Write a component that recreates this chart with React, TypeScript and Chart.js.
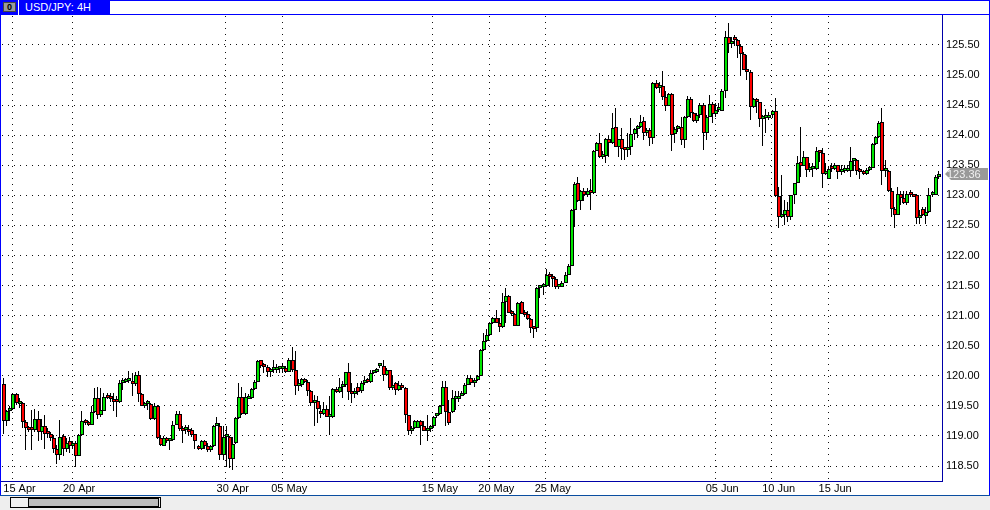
import React, { useEffect, useRef } from "react";
import { Chart, registerables } from "chart.js";

Chart.register(...registerables);

const opens = [
119.86,119.24,119.41,119.45,119.69,119.53,119.54,119.23,119.13,119.12,
119.10,119.28,119.06,119.17,119.04,119.03,118.97,118.79,118.69,119.00,
118.79,118.92,118.83,118.89,118.67,119.01,119.24,119.21,119.19,119.39,
119.63,119.35,119.42,119.64,119.63,119.62,119.57,119.56,119.88,119.90,
119.92,119.91,119.86,120.01,119.70,119.50,119.53,119.53,119.28,119.49,
118.96,118.84,118.93,118.92,118.93,119.19,119.36,119.11,119.10,119.11,
119.10,119.03,118.81,118.78,118.91,118.84,118.76,118.83,119.17,119.17,
118.69,118.99,118.98,118.61,118.88,119.29,119.64,119.36,119.62,119.63,
119.78,119.90,120.26,120.19,120.14,120.07,120.09,120.10,120.11,120.11,
120.13,120.06,120.26,120.09,119.83,119.84,119.94,119.89,119.74,119.54,
119.58,119.41,119.37,119.44,119.31,119.31,119.78,119.73,119.81,119.84,
120.06,119.73,119.69,119.81,119.74,119.88,119.92,119.89,120.04,120.06,
120.16,120.16,120.01,120.09,119.79,119.88,119.77,119.85,119.79,119.34,
119.08,119.13,119.14,119.25,119.17,119.08,119.11,119.17,119.33,119.36,
119.50,119.82,119.39,119.39,119.62,119.61,119.67,119.69,119.85,119.97,
119.88,119.93,120.00,120.43,120.58,120.67,120.87,120.96,120.88,120.81,
121.22,121.32,121.05,121.03,120.83,121.22,121.03,121.02,120.94,120.80,
120.79,121.46,121.48,121.49,121.67,121.64,121.61,121.47,121.48,121.55,
121.68,121.83,122.75,123.21,122.90,123.08,123.01,123.08,123.04,123.73,
123.87,123.63,123.66,123.93,123.87,124.13,123.81,123.93,123.77,123.76,
123.81,124.02,124.10,124.13,124.23,124.03,124.08,123.95,124.87,124.78,
124.81,124.63,124.49,124.68,124.02,124.10,124.14,123.92,124.30,124.60,
124.37,124.23,124.33,124.50,124.04,124.31,124.52,124.35,124.42,124.41,
124.74,125.64,125.52,125.64,125.59,125.49,125.35,125.10,125.05,124.47,
124.59,124.55,124.27,124.28,124.29,124.33,124.40,122.99,122.64,122.68,
122.75,122.64,123.01,123.21,123.56,123.49,123.63,123.42,123.44,123.43,
123.73,123.70,123.36,123.28,123.44,123.43,123.50,123.38,123.40,123.40,
123.41,123.57,123.58,123.41,123.40,123.35,123.42,123.46,123.85,123.97,
124.22,123.41,123.41,123.08,122.78,122.68,123.02,122.95,122.87,123.02,
123.01,123.01,122.62,122.77,122.66,122.72,123.00,123.01,123.30,
];

const highs = [
119.96,119.43,119.49,119.71,119.71,119.63,119.57,119.27,119.16,119.43,
119.44,119.42,119.28,119.35,119.13,119.07,119.02,118.85,119.27,119.03,
118.96,118.98,118.91,118.91,119.03,119.41,119.28,119.24,119.49,119.79,
119.82,119.79,119.71,119.71,119.71,119.71,119.66,119.93,119.96,119.96,
120.08,120.04,120.07,120.08,119.71,119.57,119.60,119.54,119.54,119.52,
119.02,119.00,118.98,118.96,119.24,119.41,119.42,119.16,119.18,119.18,
119.13,119.04,118.85,118.93,118.93,118.88,118.85,119.18,119.32,119.22,
119.16,119.16,119.00,118.99,119.31,119.88,119.81,119.71,119.70,119.79,
119.93,120.27,120.27,120.21,120.18,120.13,120.27,120.20,120.17,120.21,
120.16,120.29,120.48,120.41,119.94,119.96,119.96,119.93,119.77,119.68,
119.66,119.52,119.57,119.52,119.66,119.79,119.82,119.96,119.91,120.07,
120.21,119.88,119.79,119.88,119.91,119.99,119.96,120.10,120.10,120.13,
120.20,120.27,120.13,120.10,120.02,119.89,119.91,119.88,119.81,119.35,
119.16,119.27,119.27,119.27,119.24,119.35,119.18,119.33,119.37,119.52,
119.91,119.91,119.60,119.77,119.74,119.74,119.74,119.88,120.02,120.02,
119.96,120.02,120.44,120.71,120.77,120.88,120.98,121.09,120.96,121.37,
121.46,121.34,121.09,121.04,121.23,121.24,121.09,121.07,120.96,120.82,
121.48,121.51,121.54,121.77,121.73,121.69,121.65,121.51,121.57,121.72,
121.86,122.77,123.22,123.31,123.09,123.12,123.12,123.27,123.75,123.89,
124.04,123.73,123.95,124.01,124.37,124.45,123.94,124.12,123.81,124.03,
124.28,124.12,124.17,124.34,124.31,124.12,124.12,124.88,124.92,124.88,
125.06,124.73,124.70,124.70,124.14,124.17,124.31,124.32,124.66,124.63,
124.39,124.37,124.53,124.53,124.34,124.67,124.56,124.53,124.53,124.76,
125.73,125.86,125.64,125.67,125.60,125.51,125.38,125.34,125.09,124.62,
124.62,124.56,124.34,124.43,124.39,124.42,124.62,123.14,123.34,122.92,
122.89,123.01,123.21,123.65,124.14,123.73,123.64,123.53,123.53,123.81,
123.76,123.78,123.53,123.48,123.53,123.53,123.51,123.51,123.51,123.51,
123.80,123.60,123.60,123.45,123.42,123.45,123.48,123.87,123.98,124.23,
124.45,123.59,123.42,123.12,122.81,123.14,123.08,123.08,123.08,123.09,
123.03,123.03,122.76,122.81,122.81,123.13,123.08,123.34,123.41,
];

const lows = [
119.03,119.16,119.24,119.43,119.52,119.46,119.13,118.76,119.07,118.77,
119.07,118.91,118.93,118.78,118.96,118.91,118.71,118.53,118.60,118.66,
118.74,118.72,118.79,118.49,118.66,119.00,119.18,119.17,119.18,119.38,
119.28,119.32,119.41,119.61,119.57,119.41,119.32,119.54,119.77,119.88,
119.88,119.66,119.83,119.56,119.49,119.46,119.43,119.26,119.26,118.95,
118.83,118.83,118.88,118.76,118.92,119.18,119.08,118.88,119.04,119.00,
118.98,118.79,118.77,118.76,118.79,118.74,118.74,118.81,119.16,118.60,
118.60,118.49,118.46,118.44,118.87,119.28,119.35,119.35,119.61,119.61,
119.77,119.89,120.13,120.04,119.98,119.98,120.04,120.04,120.04,120.04,
120.04,120.06,120.07,119.68,119.74,119.82,119.88,119.66,119.49,119.17,
119.22,119.29,119.35,119.31,119.02,119.29,119.71,119.72,119.63,119.82,
119.59,119.54,119.63,119.68,119.71,119.85,119.88,119.88,120.03,120.04,
120.13,119.91,119.99,119.77,119.77,119.68,119.74,119.76,119.22,119.02,
119.04,119.11,119.13,118.85,119.08,118.92,119.07,119.14,119.29,119.34,
119.49,119.16,119.18,119.38,119.43,119.57,119.66,119.68,119.84,119.85,
119.82,119.92,119.99,120.42,120.57,120.66,120.86,120.87,120.72,120.80,
120.88,121.04,121.00,120.82,120.83,121.02,120.98,120.93,120.71,120.62,
120.73,121.29,121.34,121.48,121.48,121.48,121.44,121.44,121.47,121.54,
121.67,121.83,122.48,122.89,122.75,122.90,122.98,122.75,123.03,123.73,
123.62,123.60,123.54,123.64,123.86,123.80,123.64,123.59,123.58,123.64,
123.67,123.92,123.95,124.12,123.92,123.98,123.82,123.86,124.77,124.70,
124.58,124.41,124.48,123.73,123.87,124.05,123.84,123.78,124.28,124.28,
124.22,124.20,124.28,123.76,123.92,124.30,124.20,124.31,124.39,124.41,
124.62,125.36,125.45,125.48,125.28,124.98,125.09,124.92,124.26,124.45,
124.37,124.14,123.82,124.04,124.26,124.28,122.98,122.45,122.62,122.51,
122.56,122.59,122.85,123.20,123.31,123.48,123.31,123.39,123.31,123.42,
123.56,123.13,123.34,123.27,123.39,123.42,123.28,123.34,123.37,123.39,
123.30,123.41,123.34,123.28,123.34,123.34,123.41,123.45,123.84,123.95,
123.17,123.30,123.06,122.64,122.45,122.67,122.84,122.86,122.84,122.98,
122.97,122.52,122.52,122.66,122.52,122.70,122.98,123.00,123.28,
];

const closes = [
119.24,119.41,119.45,119.69,119.54,119.54,119.23,119.13,119.10,119.10,
119.28,119.06,119.17,119.04,119.03,118.97,118.79,118.69,118.99,118.79,
118.89,118.83,118.88,118.67,119.01,119.24,119.21,119.19,119.39,119.63,
119.35,119.43,119.64,119.63,119.62,119.56,119.56,119.88,119.90,119.92,
119.93,119.86,120.01,119.70,119.50,119.54,119.54,119.28,119.49,118.96,
118.85,118.97,118.91,118.93,119.19,119.36,119.11,119.09,119.11,119.07,
119.02,118.92,118.79,118.91,118.83,118.76,118.83,119.17,119.18,118.68,
118.99,119.00,118.61,118.86,119.29,119.64,119.36,119.64,119.64,119.78,
119.90,120.25,120.17,120.14,120.06,120.09,120.11,120.11,120.13,120.13,
120.06,120.26,120.09,119.83,119.84,119.94,119.89,119.74,119.54,119.57,
119.44,119.37,119.44,119.31,119.32,119.78,119.73,119.81,119.84,120.06,
119.73,119.69,119.74,119.73,119.88,119.91,119.89,120.04,120.06,120.11,
120.17,120.01,120.09,119.79,119.83,119.77,119.85,119.79,119.34,119.08,
119.13,119.24,119.25,119.17,119.08,119.11,119.17,119.32,119.36,119.50,
119.82,119.39,119.21,119.63,119.66,119.66,119.69,119.85,119.96,119.88,
119.93,119.99,120.43,120.58,120.67,120.87,120.96,120.88,120.81,121.22,
121.32,121.05,121.02,120.83,121.21,121.03,121.01,120.94,120.80,120.77,
121.46,121.48,121.51,121.67,121.64,121.61,121.47,121.48,121.55,121.68,
121.83,122.75,123.19,122.90,123.08,123.01,123.07,123.04,123.74,123.87,
123.63,123.66,123.93,123.87,124.12,123.81,123.93,123.77,123.76,123.81,
124.02,124.10,124.13,124.22,124.03,124.08,123.95,124.87,124.78,124.81,
124.63,124.49,124.68,124.00,124.10,124.14,123.92,124.31,124.60,124.37,
124.23,124.33,124.50,124.04,124.31,124.52,124.35,124.42,124.46,124.73,
125.64,125.52,125.56,125.59,125.49,125.35,125.09,125.05,124.47,124.60,
124.55,124.27,124.28,124.29,124.33,124.40,122.99,122.64,122.68,122.75,
122.64,123.00,123.20,123.54,123.49,123.63,123.42,123.44,123.45,123.73,
123.71,123.36,123.38,123.44,123.43,123.50,123.38,123.41,123.40,123.41,
123.57,123.58,123.41,123.39,123.35,123.42,123.46,123.85,123.97,124.20,
123.41,123.42,123.08,122.78,122.68,123.02,122.95,122.87,123.02,123.00,
122.98,122.62,122.67,122.67,122.72,123.00,123.04,123.30,123.36,
];

const dateLabels = ["15 Apr", "20 Apr", "30 Apr", "05 May", "15 May", "20 May", "25 May", "05 Jun", "10 Jun", "15 Jun"];
const dateCandles = [3, 22, 71, 89, 137, 155, 173, 227, 245, 263];
const priceTicks = [118.5, 119, 119.5, 120, 120.5, 121, 121.5, 122, 122.5, 123, 123.5, 124, 124.5, 125, 125.5];
const title = "USD/JPY: 4H";

const GREEN = "#00e600";
const RED = "#ff0000";
const GRID = "#111111";
const FONT = { family: "'Liberation Sans', Arial, sans-serif", size: 11 };

const snapPlugin = {
  id: "snap",
  afterDatasetsUpdate(chart: any) {
    chart.data.datasets.forEach((_: any, d: number) => {
      chart.getDatasetMeta(d).data.forEach((el: any) => {
        const x = Math.round(el.x);
        el.x = d === 0 ? x : x - 0.5;
        el.y = Math.round(el.y);
        el.base = Math.round(el.base);
        if (d === 0 && Math.abs(el.y - el.base) < 3) {
          el.base = Math.max(el.y, el.base);
          el.y = el.base - 3;
        }
      });
    });
  },
};

const tagPlugin = {
  id: "tag",
  afterDraw(chart: any) {
    const { ctx, scales } = chart;
    const last = closes[closes.length - 1];
    const y = Math.round(scales.y.getPixelForValue(last));
    ctx.save();
    ctx.fillStyle = "#999999";
    ctx.beginPath();
    ctx.moveTo(945, y);
    ctx.lineTo(951, y - 6);
    ctx.lineTo(988, y - 6);
    ctx.lineTo(988, y + 6);
    ctx.lineTo(951, y + 6);
    ctx.closePath();
    ctx.fill();
    ctx.fillStyle = "#f0f0f0";
    ctx.font = "11px 'Liberation Sans', Arial, sans-serif";
    ctx.textBaseline = "middle";
    ctx.textAlign = "left";
    ctx.fillText(last.toFixed(2), 947, y + 1);
    ctx.restore();
  },
};

export default function App() {
  const ref = useRef<HTMLCanvasElement>(null);
  useEffect(() => {
    const idx = closes.map((_, i) => i);
    const chart = new Chart(ref.current as any, {
      type: "bar",
      data: {
        datasets: [
          {
            label: "body",
            data: idx.map((i) => ({ x: i, y: [opens[i], closes[i]] })),
            backgroundColor: idx.map((i) => (closes[i] >= opens[i] ? GREEN : RED)),
            borderColor: "#000000",
            borderWidth: 1,
            borderSkipped: false,
            inflateAmount: 0,
            barThickness: 4,
            order: 1,
            grouped: false,
          },
          {
            label: "wick",
            data: idx.map((i) => ({ x: i, y: [lows[i], highs[i]] })),
            backgroundColor: "#000000",
            borderWidth: 0,
            inflateAmount: 0,
            barThickness: 1,
            order: 2,
            grouped: false,
          },
        ],
      } as any,
      options: {
        responsive: false,
        animation: false,
        events: [],
        layout: { padding: { left: 2, top: 16, right: 0, bottom: 0 } },
        plugins: { legend: { display: false }, tooltip: { enabled: false }, title: { display: false } },
        scales: {
          x: {
            type: "linear",
            offset: false,
            min: -0.64,
            max: 299,
            afterBuildTicks(scale: any) {
              scale.ticks = dateCandles.map((c) => ({ value: c - 0.3 }));
            },
            afterFit(scale: any) {
              scale.height = 28;
              scale.paddingLeft = 0;
              scale.paddingRight = 0;
            },
            ticks: {
              autoSkip: false,
              maxRotation: 0,
              minRotation: 0,
              padding: 0,
              labelOffset: 7,
              color: "#000000",
              font: FONT,
              callback(_: any, index: number) {
                return dateLabels[index];
              },
            },
            grid: { offset: false, color: GRID, lineWidth: 1, tickLength: 0, drawTicks: false },
            border: { display: false, dash: [1, 5] },
          },
          y: {
            type: "linear",
            position: "right",
            min: 118.234,
            max: 125.982,
            afterBuildTicks(scale: any) {
              scale.ticks = priceTicks.map((v) => ({ value: v }));
            },
            afterFit(scale: any) {
              scale.width = 48;
              scale.paddingTop = 0;
              scale.paddingBottom = 0;
            },
            ticks: {
              autoSkip: false,
              padding: 4,
              color: "#000000",
              font: FONT,
              callback(v: any) {
                return Number(v).toFixed(2);
              },
            },
            grid: { color: GRID, lineWidth: 1, tickLength: 0, drawTicks: false },
            border: { display: false, dash: [1, 5] },
          },
        },
      } as any,
      plugins: [snapPlugin, tagPlugin] as any,
    });
    return () => chart.destroy();
  }, []);

  const box = (s: React.CSSProperties): React.CSSProperties => ({ position: "absolute", boxSizing: "border-box", ...s });

  return (
    <div style={box({ left: 0, top: 0, width: 990, height: 510, background: "#fff", overflow: "hidden" })}>
      <canvas ref={ref} width={990} height={510} style={{ position: "absolute", left: 0, top: 0, display: "block" }} />
      {/* plot frame lines */}
      <div style={box({ left: 0, top: 481, width: 943, height: 1, background: "#0000a8" })} />
      <div style={box({ left: 942, top: 14, width: 1, height: 468, background: "#0000a8" })} />
      {/* top frame and title */}
      <div style={box({ left: 0, top: 0, width: 990, height: 1, background: "#0000ff" })} />
      <div style={box({ left: 0, top: 14, width: 990, height: 1, background: "#0000ff" })} />
      <div style={box({ left: 0, top: 0, width: 1, height: 496, background: "#0000ff" })} />
      <div style={box({ left: 989, top: 0, width: 1, height: 496, background: "#0000ff" })} />
      <div style={box({ left: 0, top: 0, width: 18, height: 15, background: "#0000ff" })} />
      <div
        style={box({
          left: 3,
          top: 2,
          width: 13,
          height: 10,
          background: "#9a9a9a",
          border: "1px solid #444",
          color: "#000",
          font: "bold 9px 'Liberation Sans', sans-serif",
          lineHeight: "8px",
          textAlign: "center",
        })}
      >
        0
      </div>
      <div
        style={box({
          left: 18,
          top: 0,
          width: 92,
          height: 15,
          background: "#0000ff",
          color: "#fff",
          borderLeft: "1px solid #fff",
          paddingLeft: 6,
          font: "11px 'Liberation Sans', sans-serif",
          lineHeight: "15px",
          whiteSpace: "nowrap",
        })}
      >
        {title}
      </div>
      {/* scroll bar */}
      <div style={box({ left: 0, top: 495, width: 990, height: 15, background: "#eeeeee", borderTop: "1px solid #0a4ea0" })} />
      <div style={box({ left: 10, top: 497, width: 151, height: 11, background: "#f0f0f0", border: "1px solid #000" })} />
      <div style={box({ left: 28, top: 498, width: 131, height: 9, background: "#bdbdbd", border: "1px solid #000" })} />
    </div>
  );
}
